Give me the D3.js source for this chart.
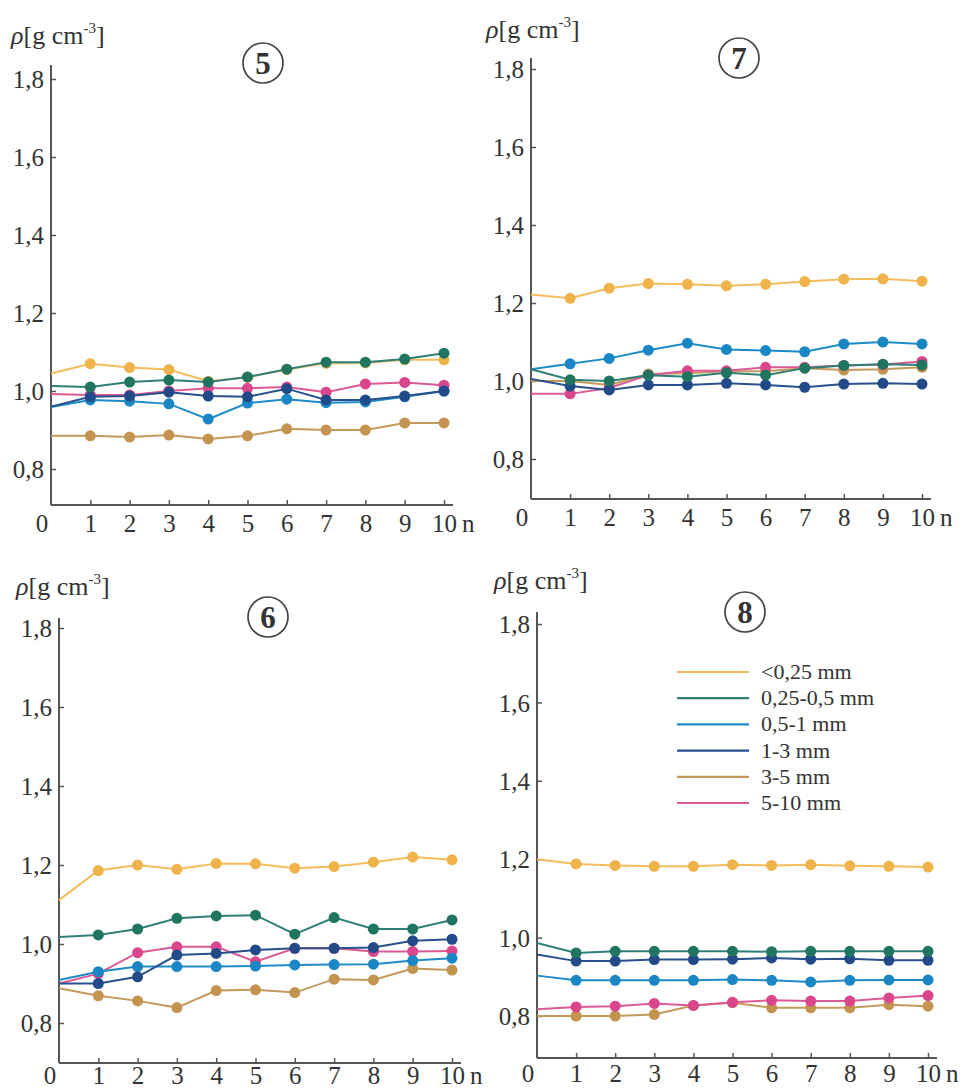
<!DOCTYPE html>
<html>
<head>
<meta charset="utf-8">
<script src="https://cdn.jsdelivr.net/npm/d3@7"></script>
<style>
  html, body { margin: 0; padding: 0; background: #fff; }
  svg { display: block; }
  text { font-family: "Liberation Serif", "Times New Roman", serif; fill: #333; }
</style>
</head>
<body>
<svg id="chart" width="966" height="1090"></svg>
<script>
// ---------- data ----------
const nSteps = [0, 1, 2, 3, 4, 5, 6, 7, 8, 9, 10];
const xTickLabels = ["0", "1", "2", "3", "4", "5", "6", "7", "8", "9", "10"];
const yTicks = [0.8, 1.0, 1.2, 1.4, 1.6, 1.8];
const yTickLabels = ["0,8", "1,0", "1,2", "1,4", "1,6", "1,8"];
const seriesNames = ["<0,25 mm", "0,25-0,5 mm", "0,5-1 mm", "1-3 mm", "3-5 mm", "5-10 mm"];
const panelIds = ["5", "7", "6", "8"];

// panel 5
const p5_lt025  = [1.045, 1.070, 1.060, 1.055, 1.025, 1.035, 1.055, 1.071, 1.072, 1.080, 1.080];
const p5_025_05 = [1.013, 1.010, 1.023, 1.028, 1.023, 1.036, 1.056, 1.074, 1.074, 1.082, 1.097];
const p5_05_1   = [0.959, 0.977, 0.974, 0.967, 0.928, 0.969, 0.979, 0.970, 0.972, 0.985, 1.000];
const p5_1_3    = [0.960, 0.985, 0.987, 0.997, 0.987, 0.985, 1.006, 0.977, 0.977, 0.987, 1.000];
const p5_3_5    = [0.885, 0.885, 0.882, 0.887, 0.877, 0.885, 0.903, 0.900, 0.900, 0.918, 0.918];
const p5_5_10   = [0.992, 0.990, 0.990, 1.000, 1.007, 1.007, 1.010, 0.997, 1.018, 1.022, 1.015];

// panel 7
const p7_lt025  = [1.222, 1.212, 1.238, 1.250, 1.248, 1.244, 1.248, 1.255, 1.261, 1.262, 1.256];
const p7_025_05 = [1.030, 1.003, 1.000, 1.015, 1.011, 1.021, 1.015, 1.033, 1.040, 1.043, 1.041];
const p7_05_1   = [1.030, 1.044, 1.058, 1.079, 1.097, 1.081, 1.078, 1.075, 1.095, 1.100, 1.095];
const p7_1_3    = [1.005, 0.987, 0.977, 0.990, 0.990, 0.994, 0.990, 0.984, 0.992, 0.994, 0.992];
const p7_3_5    = [1.000, 1.000, 0.990, 1.018, 1.020, 1.025, 1.025, 1.033, 1.028, 1.030, 1.035];
const p7_5_10   = [0.967, 0.967, 0.982, 1.015, 1.026, 1.026, 1.035, 1.035, 1.040, 1.042, 1.050];

// panel 6
const p6_lt025  = [1.111, 1.186, 1.200, 1.189, 1.204, 1.203, 1.192, 1.196, 1.207, 1.220, 1.213];
const p6_025_05 = [1.018, 1.023, 1.038, 1.065, 1.071, 1.073, 1.025, 1.067, 1.038, 1.038, 1.061];
const p6_05_1   = [0.909, 0.930, 0.943, 0.943, 0.943, 0.944, 0.947, 0.948, 0.949, 0.958, 0.964];
const p6_1_3    = [0.900, 0.900, 0.917, 0.972, 0.976, 0.985, 0.989, 0.989, 0.991, 1.008, 1.012];
const p6_3_5    = [0.888, 0.869, 0.856, 0.839, 0.882, 0.884, 0.877, 0.911, 0.909, 0.938, 0.934];
const p6_5_10   = [0.900, 0.925, 0.978, 0.993, 0.993, 0.955, 0.989, 0.989, 0.981, 0.981, 0.982];

// panel 8
const p8_lt025  = [1.200, 1.188, 1.184, 1.182, 1.182, 1.186, 1.184, 1.186, 1.183, 1.182, 1.180];
const p8_025_05 = [0.986, 0.961, 0.965, 0.965, 0.965, 0.965, 0.964, 0.965, 0.965, 0.965, 0.965];
const p8_05_1   = [0.903, 0.891, 0.891, 0.891, 0.891, 0.893, 0.891, 0.887, 0.891, 0.892, 0.892];
const p8_1_3    = [0.957, 0.940, 0.940, 0.944, 0.944, 0.945, 0.948, 0.945, 0.946, 0.942, 0.942];
const p8_3_5    = [0.800, 0.800, 0.800, 0.804, 0.827, 0.834, 0.821, 0.821, 0.821, 0.829, 0.825];
const p8_5_10   = [0.817, 0.823, 0.825, 0.832, 0.827, 0.835, 0.840, 0.838, 0.838, 0.846, 0.852];

// ---------- styles ----------
const lineColors   = ["#f3bd5c", "#2f7f78", "#1d8bc6", "#27508c", "#c49a5c", "#db5a95"];
const markerColors = ["#f0b24a", "#1f7560", "#1a87c4", "#224a88", "#c39350", "#d9468c"];
const drawOrder = [0, 4, 5, 2, 3, 1];

// ---------- layout ----------
const panels = [
  { id: "5", series: [p5_lt025, p5_025_05, p5_05_1, p5_1_3, p5_3_5, p5_5_10],
    x0: 51, x10: 444, y08: 469, y18: 79, bottom: 505, top: 65, xEnd: 453, lblOff: 27,
    label: [11, 44], circ: [263, 63] , legend: false },
  { id: "7", series: [p7_lt025, p7_025_05, p7_05_1, p7_1_3, p7_3_5, p7_5_10],
    x0: 531, x10: 922, y08: 459, y18: 69, bottom: 499, top: 58, xEnd: 931, lblOff: 27,
    label: [486, 38], circ: [739, 58], legend: false },
  { id: "6", series: [p6_lt025, p6_025_05, p6_05_1, p6_1_3, p6_3_5, p6_5_10],
    x0: 59, x10: 452, y08: 1023, y18: 628, bottom: 1063, top: 618, xEnd: 461, lblOff: 21,
    label: [16, 595], circ: [268, 617], legend: false },
  { id: "8", series: [p8_lt025, p8_025_05, p8_05_1, p8_1_3, p8_3_5, p8_5_10],
    x0: 537, x10: 928, y08: 1016, y18: 624, bottom: 1058, top: 612, xEnd: 937, lblOff: 24,
    label: [494, 589], circ: [745, 612], legend: true }
];

const svg = d3.select("#chart");
const axisColor = "#555";

panels.forEach(p => {
  const g = svg.append("g");
  const x = d3.scaleLinear().domain([nSteps[0], nSteps[nSteps.length - 1]]).range([p.x0, p.x10]);
  const y = d3.scaleLinear().domain([yTicks[0], yTicks[yTicks.length - 1]]).range([p.y08, p.y18]);

  // axis lines
  g.append("line").attr("x1", p.x0).attr("x2", p.x0).attr("y1", p.top).attr("y2", p.bottom)
    .attr("stroke", axisColor).attr("stroke-width", 2);
  g.append("line").attr("x1", p.x0).attr("x2", p.xEnd).attr("y1", p.bottom).attr("y2", p.bottom)
    .attr("stroke", axisColor).attr("stroke-width", 2);

  // y axis ticks (inward)
  const yAxis = d3.axisLeft(y).tickValues(yTicks).tickSize(-5).tickPadding(12)
    .tickFormat((d, i) => yTickLabels[i]);
  const ya = g.append("g").attr("transform", `translate(${p.x0},0)`).call(yAxis);
  ya.select(".domain").remove();
  ya.selectAll(".tick line").attr("stroke", axisColor).attr("stroke-width", 1.5);
  ya.selectAll(".tick text").attr("font-size", 25).attr("fill", "#333")
    .attr("font-family", "Liberation Serif, serif").attr("x", -7).attr("dy", "0.35em");

  // x axis ticks (inward)
  const xAxis = d3.axisBottom(x).tickValues(nSteps.slice(1)).tickSize(-5).tickPadding(0)
    .tickFormat(d => xTickLabels[nSteps.indexOf(d)]);
  const xa = g.append("g").attr("transform", `translate(0,${p.bottom})`).call(xAxis);
  xa.select(".domain").remove();
  xa.selectAll(".tick line").attr("stroke", axisColor).attr("stroke-width", 1.5);
  xa.selectAll(".tick text").attr("font-size", 25).attr("fill", "#333")
    .attr("font-family", "Liberation Serif, serif").attr("y", p.lblOff).attr("dy", 0);
  // origin label "0"
  g.append("text").attr("x", p.x0 - 9).attr("y", p.bottom + p.lblOff).attr("text-anchor", "middle")
    .attr("font-size", 25).text(xTickLabels[0]);
  // "n"
  g.append("text").attr("x", x(10) + 18).attr("y", p.bottom + p.lblOff)
    .attr("font-size", 25).text("n");

  // y label
  const t = g.append("text").attr("x", p.label[0]).attr("y", p.label[1]).attr("font-size", 26);
  t.append("tspan").attr("font-style", "italic").text("ρ");
  t.append("tspan").text("[g cm");
  t.append("tspan").attr("font-size", 15).attr("dy", -11).text("-3");
  t.append("tspan").attr("dy", 11).text("]");

  // circled panel number
  g.append("circle").attr("cx", p.circ[0]).attr("cy", p.circ[1]).attr("r", 20)
    .attr("fill", "none").attr("stroke", "#444").attr("stroke-width", 1.7);
  g.append("text").attr("x", p.circ[0]).attr("y", p.circ[1] + 11).attr("text-anchor", "middle")
    .attr("font-size", 31).attr("font-weight", "bold").attr("fill", "#333").text(p.id);

  // series
  const line = d3.line().x((d, i) => x(nSteps[i])).y(d => y(d));
  drawOrder.forEach(si => {
    const vals = p.series[si];
    const sg = g.append("g");
    sg.append("path").datum(vals).attr("d", line).attr("fill", "none")
      .attr("stroke", lineColors[si]).attr("stroke-width", 2);
    sg.selectAll("circle").data(vals.slice(1)).join("circle")
      .attr("cx", (d, i) => x(nSteps[i + 1])).attr("cy", d => y(d)).attr("r", 5.5)
      .attr("fill", markerColors[si]);
  });

  // legend
  if (p.legend) {
    const lg = g.append("g");
    seriesNames.forEach((name, i) => {
      const yy = 672 + i * 26.2;
      lg.append("line").attr("x1", 677).attr("x2", 749).attr("y1", yy).attr("y2", yy)
        .attr("stroke", lineColors[i]).attr("stroke-width", 2.2);
      lg.append("text").attr("x", 761).attr("y", yy + 7).attr("font-size", 22).text(name);
    });
  }
});
</script>
</body>
</html>
